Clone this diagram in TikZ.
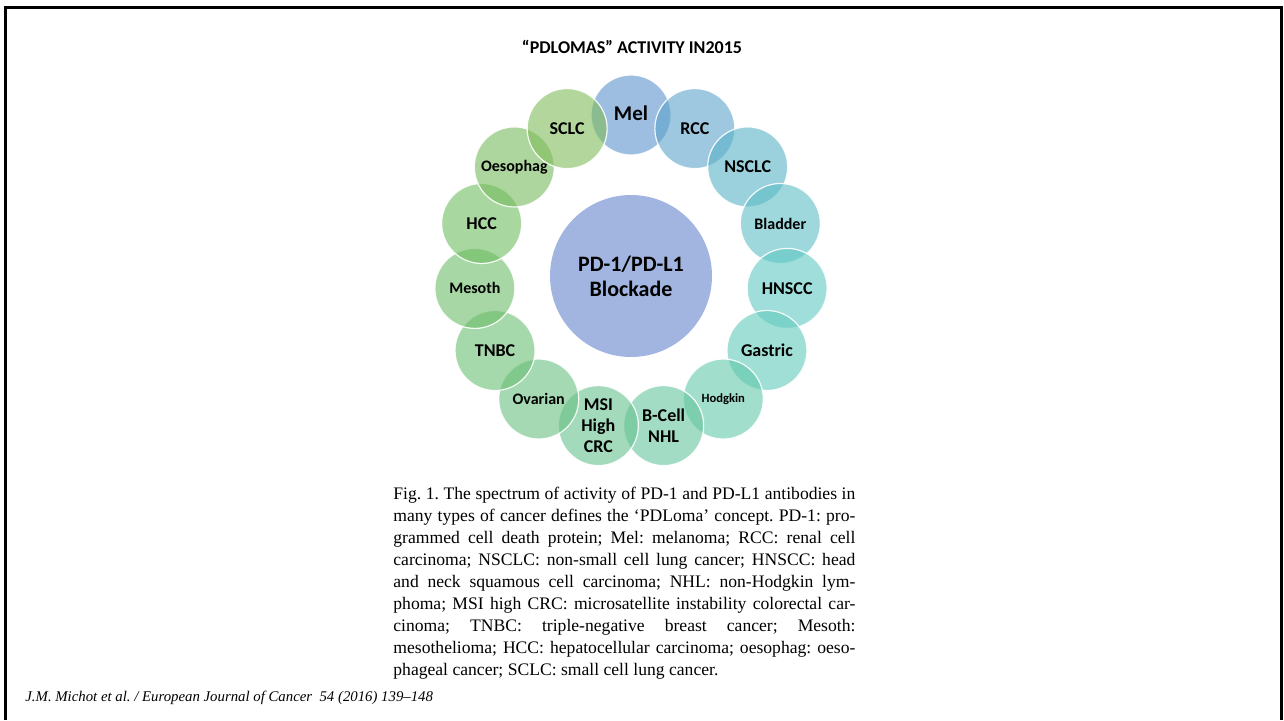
\documentclass[tikz,border=0pt]{standalone}
\usepackage{fontspec}
\setmainfont{Liberation Serif}
\newfontfamily\calibri{Carlito}

\definecolor{melcol}{RGB}{92,145,205}
\definecolor{rcccol}{RGB}{92,163,202}
\definecolor{nsclccol}{RGB}{88,177,198}
\definecolor{bladdercol}{RGB}{93,190,197}
\definecolor{hnscccol}{RGB}{95,200,195}
\definecolor{gastriccol}{RGB}{97,202,187}
\definecolor{hodgkincol}{RGB}{98,200,170}
\definecolor{nhlcol}{RGB}{100,197,157}
\definecolor{crccol}{RGB}{102,193,143}
\definecolor{ovariancol}{RGB}{103,192,128}
\definecolor{tnbccol}{RGB}{105,190,115}
\definecolor{mesothcol}{RGB}{107,188,103}
\definecolor{hcccol}{RGB}{110,188,97}
\definecolor{oesocol}{RGB}{117,187,92}
\definecolor{sclccol}{RGB}{127,187,90}
\definecolor{hubcol}{RGB}{161,181,224}

\newcommand{\capline}[1]{\makebox[231pt][s]{#1}\\}

\tikzset{
  ring/.style={circle, draw=white, line width=0.6pt, draw opacity=0.9,
    fill opacity=0.6, text opacity=1, minimum size=40pt, inner sep=0pt,
    align=center, font=\calibri\bfseries\fontsize{9}{10.5}\selectfont},
  small/.style={font=\calibri\bfseries\fontsize{8}{9}\selectfont},
  hub/.style={circle, fill=hubcol, minimum size=81pt, inner sep=0pt,
    align=center, font=\calibri\bfseries\fontsize{11}{12.5}\selectfont},
}

\begin{document}
\frenchspacing
\begin{tikzpicture}[x=0.5pt,y=0.5pt]
   \useasboundingbox (0,0) rectangle (1284,720);
   \draw[line width=1.5pt] (5.5,0) -- (5.5,713) -- (1281,713) -- (1281,0);

   \node[font=\calibri\bfseries\fontsize{9}{11}\selectfont] (title) at (632,673) {“PDLOMAS” ACTIVITY IN2015};

   \begin{scope}[shift={(631,448)}]
   \node[hub] (hub) at (0,-4) {PD-1/PD-L1\\Blockade};

   \node[ring, fill=melcol, font=\calibri\bfseries\fontsize{10.5}{12}\selectfont] (mel) at (90:157) {\raisebox{2pt}{Mel}};
   \node[ring, fill=rcccol] (rcc) at (66:157) {RCC};
   \node[ring, fill=nsclccol] (nsclc) at (42:157) {NSCLC};
   \node[ring, fill=bladdercol, small] (bladder) at (18:157) {Bladder};
   \node[ring, fill=hnscccol] (hnscc) at (-6:157) {HNSCC};
   \node[ring, fill=gastriccol] (gastric) at (-30:157) {Gastric};
   \node[ring, fill=hodgkincol, font=\calibri\bfseries\fontsize{6.3}{7}\selectfont] (hodgkin) at (-54:157) {Hodgkin};
   \node[ring, fill=nhlcol] (nhl) at (-78:157) {B-Cell\\NHL};
   \node[ring, fill=crccol] (crc) at (-102:157) {MSI\\High\\CRC};
   \node[ring, fill=ovariancol, small] (ovarian) at (-126:157) {Ovarian};
   \node[ring, fill=tnbccol] (tnbc) at (-150:157) {TNBC};
   \node[ring, fill=mesothcol, small] (mesoth) at (-174:157) {Mesoth};
   \node[ring, fill=hcccol] (hcc) at (162:157) {HCC};
   \node[ring, fill=oesocol, small] (oesophag) at (138:157) {Oesophag};
   \node[ring, fill=sclccol] (sclc) at (114:157) {SCLC};
   \end{scope}

   \node[anchor=north west, inner sep=0pt, align=left, font=\fontsize{8.8}{11}\selectfont] (caption) at (393,233) {%
     \capline{Fig. 1. The spectrum of activity of PD-1 and PD-L1 antibodies in}
     \capline{many types of cancer defines the ‘PDLoma’ concept. PD-1: pro-}
     \capline{grammed cell death protein; Mel: melanoma; RCC: renal cell}
     \capline{carcinoma; NSCLC: non-small cell lung cancer; HNSCC: head}
     \capline{and neck squamous cell carcinoma; NHL: non-Hodgkin lym-}
     \capline{phoma; MSI high CRC: microsatellite instability colorectal car-}
     \capline{cinoma; TNBC: triple-negative breast cancer; Mesoth:}
     \capline{mesothelioma; HCC: hepatocellular carcinoma; oesophag: oeso-}
     phageal cancer; SCLC: small cell lung cancer.};

   \node[anchor=base west, inner sep=0pt, font=\itshape\fontsize{7.4}{9}\selectfont] (source) at (25,19) {J.M. Michot et al. / European Journal of Cancer\ \ 54 (2016) 139–148};
\end{tikzpicture}
\end{document}
